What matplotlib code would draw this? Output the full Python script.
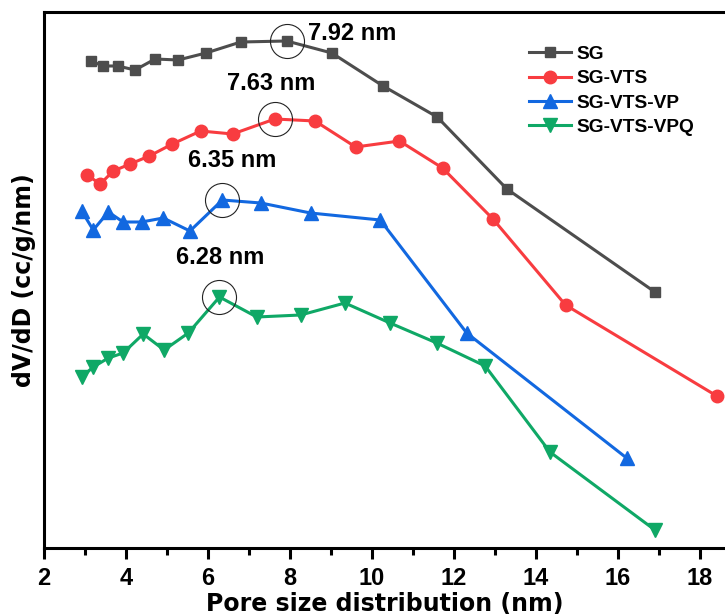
import numpy as np
import matplotlib
matplotlib.use("Agg")
import matplotlib.pyplot as plt

# pore size (nm) and dV/dD (arb. units) for each sample
sg_x = [3.15, 3.44, 3.80, 4.22, 4.71, 5.27, 5.95, 6.80, 7.92, 9.02, 10.27, 11.59, 13.29, 16.90]
sg_y = [0.487, 0.482, 0.482, 0.478, 0.489, 0.488, 0.495, 0.506, 0.507, 0.495, 0.462, 0.431, 0.359, 0.256]

vts_x = [3.05, 3.37, 3.69, 4.10, 4.57, 5.13, 5.82, 6.60, 7.63, 8.61, 9.60, 10.67, 11.72, 12.95, 14.72, 18.41]
vts_y = [0.373, 0.364, 0.377, 0.384, 0.392, 0.404, 0.417, 0.414, 0.429, 0.427, 0.401, 0.407, 0.380, 0.329, 0.243, 0.152]

vp_x = [2.92, 3.20, 3.57, 3.93, 4.38, 4.91, 5.56, 6.35, 7.29, 8.50, 10.20, 12.31, 16.21]
vp_y = [0.337, 0.318, 0.336, 0.326, 0.326, 0.330, 0.317, 0.348, 0.345, 0.335, 0.328, 0.215, 0.090]

vpq_x = [2.92, 3.20, 3.57, 3.93, 4.42, 4.93, 5.52, 6.28, 7.19, 8.26, 9.34, 10.44, 11.58, 12.76, 14.34, 16.90]
vpq_y = [0.171, 0.181, 0.190, 0.195, 0.214, 0.198, 0.215, 0.251, 0.231, 0.233, 0.245, 0.225, 0.205, 0.182, 0.096, 0.018]

labels = ["SG", "SG-VTS", "SG-VTS-VP", "SG-VTS-VPQ"]
colors = ["#4d4d4d", "#f83c40", "#1268e0", "#0fa866"]
markers = ["s", "o", "^", "v"]
msizes = [7.5, 9, 9.5, 9.5]

# peak positions that get circled and labelled
peak_x = [7.92, 7.63, 6.35, 6.28]
label_offsets = [(65, 8), (-4, 36), (10, 40), (1, 40)]

series = [(sg_x, sg_y), (vts_x, vts_y), (vp_x, vp_y), (vpq_x, vpq_y)]

fig = plt.figure(figsize=(7.25, 6.16), dpi=100)
ax = fig.add_axes([44 / 725, 1 - 548 / 616, 681 / 725, 536 / 616])

for (x, y), lab, c, m, ms in zip(series, labels, colors, markers, msizes):
    ax.plot(x, y, color=c, marker=m, markersize=ms, linewidth=2.2,
            label=lab, clip_on=False)

for (x, y), px, off in zip(series, peak_x, label_offsets):
    py = y[x.index(px)]
    ax.plot(px, py, marker="o", markersize=24.5, markerfacecolor="none",
            markeredgecolor="#222222", markeredgewidth=0.8, clip_on=False)
    ax.annotate("%.2f nm" % px, (px, py), xytext=off, textcoords="offset pixels",
                ha="center", va="center", fontsize=17, fontweight="bold",
                family="Liberation Sans")

ax.set_xlim(2, 2 + 681 / 41)
ax.set_ylim(0, 0.536)

ax.set_xticks(np.arange(2, 19, 2))
ax.set_xticks(np.arange(3, 19, 2), minor=True)
ax.set_yticks([])
ax.tick_params(axis="x", which="major", direction="out", length=8, width=2.2, pad=6)
ax.tick_params(axis="x", which="minor", direction="out", length=5, width=2.2)
for t in ax.get_xticklabels():
    t.set_fontfamily("Liberation Sans")
    t.set_fontweight("bold")
    t.set_fontsize(17)

ax.spines["right"].set_visible(False)
for s in ["left", "bottom", "top"]:
    ax.spines[s].set_linewidth(2.2)

ax.set_xlabel("Pore size distribution (nm)", fontsize=17, fontweight="bold", labelpad=1)
ax.set_ylabel("dV/dD (cc/g/nm)", fontsize=17, fontweight="bold", labelpad=6)

ax.legend(loc="upper left", bbox_to_anchor=(0.698, 0.955), frameon=False,
          borderpad=0, handlelength=2.2, handletextpad=0.26, labelspacing=0.36,
          prop={"family": "Liberation Sans", "weight": "bold", "size": 13.8})

fig.savefig("out.png", dpi=100)
